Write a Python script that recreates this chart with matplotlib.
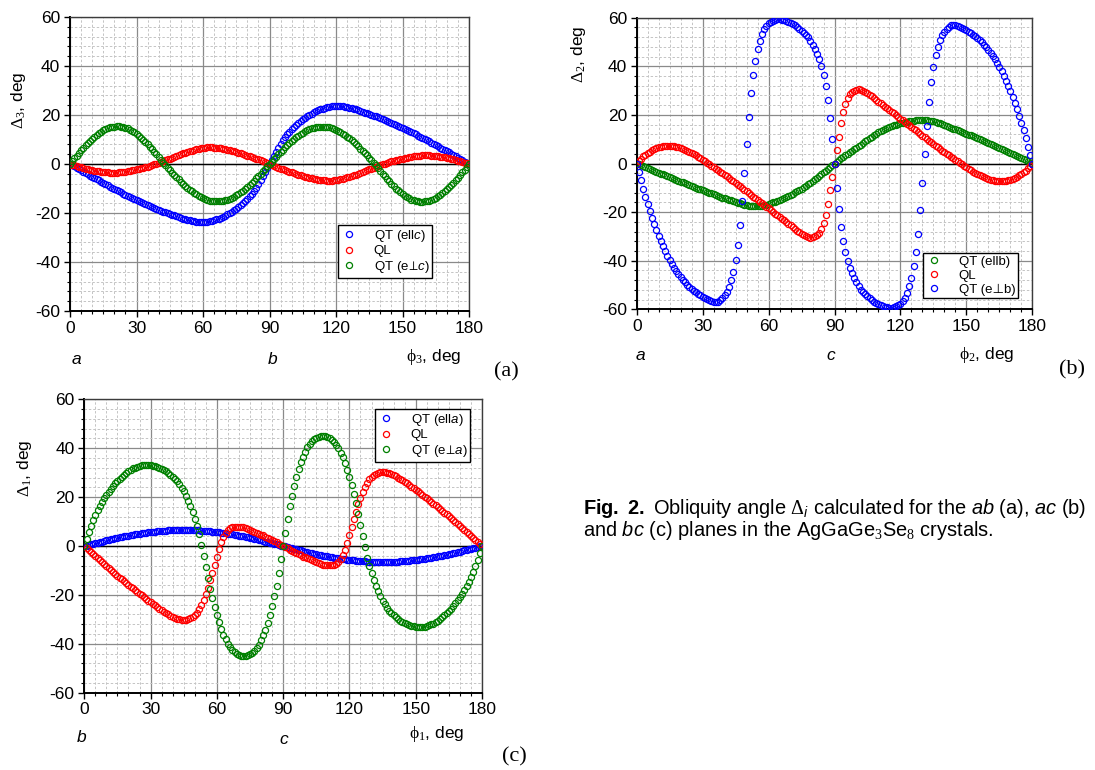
import matplotlib
matplotlib.use('Agg')
import matplotlib.pyplot as plt
from matplotlib.ticker import MultipleLocator

plt.rcParams['font.family'] = ['Liberation Sans', 'DejaVu Sans']
plt.rcParams['mathtext.fontset'] = 'custom'
plt.rcParams['mathtext.rm'] = 'Liberation Serif'
plt.rcParams['mathtext.it'] = 'Liberation Sans:italic'
plt.rcParams['mathtext.bf'] = 'Liberation Sans:bold'
plt.rcParams['mathtext.sf'] = 'DejaVu Sans'
plt.rcParams['axes.unicode_minus'] = False

# angle, deg (one point per degree)
phi = list(range(181))

# ---- panel (a): ab plane, Delta_3 vs phi_3
a_qt_par = [0.0,
    -0.5, -1.0, -1.6, -2.1, -2.6, -3.1, -3.6, -4.2, -4.7, -5.2,
    -5.7, -6.2, -6.7, -7.2, -7.7, -8.2, -8.7, -9.2, -9.7, -10.2,
    -10.7, -11.2, -11.6, -12.1, -12.6, -13.0, -13.5, -13.9, -14.4, -14.8,
    -15.2, -15.6, -16.0, -16.4, -16.8, -17.2, -17.6, -17.9, -18.3, -18.7,
    -19.0, -19.4, -19.7, -20.1, -20.4, -20.7, -21.0, -21.4, -21.7, -22.0,
    -22.3, -22.5, -22.8, -23.0, -23.2, -23.4, -23.5, -23.6, -23.7, -23.7,
    -23.6, -23.5, -23.4, -23.2, -22.9, -22.6, -22.3, -21.9, -21.5, -21.1,
    -20.6, -20.1, -19.5, -18.9, -18.2, -17.5, -16.8, -16.0, -15.1, -14.2,
    -13.2, -12.1, -10.9, -9.6, -8.2, -6.7, -5.1, -3.4, -1.7, 0.0,
    1.7, 3.4, 5.1, 6.7, 8.2, 9.6, 10.9, 12.1, 13.2, 14.2,
    15.1, 16.0, 16.8, 17.5, 18.2, 18.9, 19.5, 20.1, 20.6, 21.1,
    21.5, 21.9, 22.3, 22.6, 22.9, 23.2, 23.4, 23.5, 23.6, 23.7,
    23.7, 23.6, 23.5, 23.4, 23.2, 23.0, 22.8, 22.5, 22.3, 22.0,
    21.7, 21.4, 21.0, 20.7, 20.4, 20.1, 19.7, 19.4, 19.0, 18.7,
    18.3, 17.9, 17.6, 17.2, 16.8, 16.4, 16.0, 15.6, 15.2, 14.8,
    14.4, 13.9, 13.5, 13.0, 12.6, 12.1, 11.6, 11.2, 10.7, 10.2,
    9.7, 9.2, 8.7, 8.2, 7.7, 7.2, 6.7, 6.2, 5.7, 5.2,
    4.7, 4.2, 3.6, 3.1, 2.6, 2.1, 1.6, 1.0, 0.5, 0.0]
a_ql = [0.0,
    -0.3, -0.6, -0.8, -1.1, -1.4, -1.6, -1.9, -2.1, -2.3, -2.5,
    -2.7, -2.9, -3.0, -3.2, -3.3, -3.4, -3.4, -3.5, -3.5, -3.5,
    -3.5, -3.4, -3.3, -3.2, -3.1, -3.0, -2.8, -2.6, -2.4, -2.2,
    -2.0, -1.8, -1.6, -1.3, -1.1, -0.8, -0.5, -0.2, 0.1, 0.5,
    0.8, 1.2, 1.5, 1.9, 2.2, 2.6, 2.9, 3.3, 3.6, 4.0,
    4.3, 4.6, 4.9, 5.2, 5.5, 5.8, 6.0, 6.2, 6.4, 6.6,
    6.7, 6.8, 6.8, 6.8, 6.7, 6.6, 6.5, 6.4, 6.2, 6.0,
    5.8, 5.6, 5.4, 5.2, 4.9, 4.6, 4.3, 4.0, 3.7, 3.4,
    3.1, 2.8, 2.5, 2.2, 1.9, 1.5, 1.2, 0.8, 0.4, 0.0,
    -0.4, -0.8, -1.2, -1.5, -1.9, -2.2, -2.5, -2.8, -3.1, -3.4,
    -3.7, -4.0, -4.3, -4.6, -4.9, -5.2, -5.4, -5.6, -5.8, -6.0,
    -6.2, -6.4, -6.5, -6.6, -6.7, -6.8, -6.8, -6.8, -6.7, -6.6,
    -6.4, -6.2, -6.0, -5.8, -5.5, -5.2, -4.9, -4.6, -4.3, -4.0,
    -3.6, -3.3, -2.9, -2.6, -2.2, -1.9, -1.5, -1.2, -0.8, -0.5,
    -0.1, 0.2, 0.5, 0.8, 1.1, 1.3, 1.6, 1.8, 2.0, 2.2,
    2.4, 2.6, 2.8, 3.0, 3.1, 3.2, 3.3, 3.4, 3.5, 3.5,
    3.5, 3.5, 3.4, 3.4, 3.3, 3.2, 3.0, 2.9, 2.7, 2.5,
    2.3, 2.1, 1.9, 1.6, 1.4, 1.1, 0.8, 0.6, 0.3, 0.0]
a_qt_perp = [0.0,
    1.1, 2.3, 3.4, 4.5, 5.6, 6.6, 7.6, 8.6, 9.5, 10.4,
    11.2, 11.9, 12.6, 13.2, 13.8, 14.3, 14.6, 15.0, 15.2, 15.3,
    15.4, 15.4, 15.3, 15.1, 14.8, 14.5, 14.0, 13.5, 12.9, 12.3,
    11.6, 10.8, 10.0, 9.1, 8.1, 7.1, 6.1, 5.1, 4.0, 2.8,
    1.7, 0.6, -0.5, -1.5, -2.5, -3.5, -4.5, -5.4, -6.3, -7.2,
    -8.1, -8.9, -9.7, -10.5, -11.2, -11.8, -12.4, -13.0, -13.5, -13.9,
    -14.3, -14.6, -14.9, -15.0, -15.1, -15.2, -15.2, -15.1, -14.9, -14.8,
    -14.5, -14.1, -13.7, -13.3, -12.7, -12.1, -11.5, -10.9, -10.1, -9.3,
    -8.5, -7.7, -6.8, -5.9, -5.0, -4.0, -3.0, -2.0, -1.0, 0.0,
    1.0, 2.0, 3.0, 4.0, 5.0, 5.9, 6.8, 7.7, 8.5, 9.3,
    10.1, 10.9, 11.5, 12.1, 12.7, 13.3, 13.7, 14.1, 14.5, 14.8,
    14.9, 15.1, 15.2, 15.2, 15.1, 15.0, 14.9, 14.6, 14.3, 13.9,
    13.5, 13.0, 12.4, 11.8, 11.2, 10.5, 9.7, 8.9, 8.1, 7.2,
    6.3, 5.4, 4.5, 3.5, 2.5, 1.5, 0.5, -0.6, -1.7, -2.8,
    -4.0, -5.1, -6.1, -7.1, -8.1, -9.1, -10.0, -10.8, -11.6, -12.3,
    -12.9, -13.5, -14.0, -14.5, -14.8, -15.1, -15.3, -15.4, -15.4, -15.3,
    -15.2, -15.0, -14.6, -14.3, -13.8, -13.2, -12.6, -11.9, -11.2, -10.4,
    -9.5, -8.6, -7.6, -6.6, -5.6, -4.5, -3.4, -2.3, -1.1, 0.0]

# ---- panel (b): ac plane, Delta_2 vs phi_2
b_qt_par = [0.0,
    -0.4, -0.8, -1.1, -1.5, -1.9, -2.3, -2.7, -3.0, -3.4, -3.8,
    -4.2, -4.5, -4.9, -5.3, -5.7, -6.0, -6.4, -6.8, -7.1, -7.5,
    -7.8, -8.2, -8.5, -8.9, -9.2, -9.6, -9.9, -10.3, -10.6, -11.0,
    -11.3, -11.6, -12.0, -12.3, -12.7, -13.0, -13.3, -13.7, -14.0, -14.3,
    -14.6, -14.9, -15.2, -15.5, -15.8, -16.1, -16.4, -16.6, -16.9, -17.1,
    -17.3, -17.4, -17.5, -17.5, -17.5, -17.4, -17.3, -17.1, -16.9, -16.6,
    -16.3, -16.0, -15.7, -15.4, -15.0, -14.6, -14.2, -13.8, -13.4, -12.9,
    -12.4, -11.9, -11.4, -10.9, -10.3, -9.7, -9.1, -8.5, -7.9, -7.2,
    -6.5, -5.8, -5.1, -4.4, -3.7, -3.0, -2.3, -1.5, -0.8, 0.0,
    0.7, 1.4, 2.1, 2.8, 3.5, 4.1, 4.7, 5.3, 5.9, 6.5,
    7.2, 7.8, 8.5, 9.1, 9.8, 10.4, 11.0, 11.6, 12.2, 12.8,
    13.3, 13.8, 14.2, 14.6, 15.0, 15.4, 15.7, 16.0, 16.3, 16.6,
    16.8, 17.0, 17.2, 17.4, 17.5, 17.6, 17.7, 17.8, 17.9, 17.9,
    17.8, 17.7, 17.6, 17.5, 17.3, 17.1, 16.8, 16.5, 16.2, 15.8,
    15.5, 15.1, 14.8, 14.4, 14.0, 13.7, 13.3, 13.0, 12.6, 12.3,
    11.9, 11.6, 11.2, 10.9, 10.5, 10.1, 9.8, 9.4, 9.0, 8.6,
    8.2, 7.8, 7.3, 6.9, 6.5, 6.1, 5.7, 5.3, 4.8, 4.4,
    4.0, 3.5, 3.1, 2.6, 2.2, 1.8, 1.3, 0.9, 0.4, 0.0]
b_ql = [0.0,
    1.0, 2.0, 2.9, 3.6, 4.3, 4.9, 5.5, 5.9, 6.3, 6.6,
    6.9, 7.0, 7.1, 7.2, 7.2, 7.1, 7.0, 6.8, 6.6, 6.3,
    6.0, 5.6, 5.2, 4.8, 4.3, 3.8, 3.3, 2.7, 2.1, 1.5,
    0.9, 0.3, -0.3, -0.9, -1.5, -2.1, -2.7, -3.3, -4.0, -4.6,
    -5.3, -5.9, -6.6, -7.3, -8.0, -8.7, -9.4, -10.1, -10.8, -11.5,
    -12.2, -12.9, -13.6, -14.3, -15.0, -15.7, -16.4, -17.1, -17.8, -18.5,
    -19.2, -19.9, -20.6, -21.3, -22.0, -22.7, -23.4, -24.1, -24.8, -25.5,
    -26.2, -26.9, -27.6, -28.3, -28.9, -29.5, -30.0, -30.3, -30.5, -30.4,
    -30.0, -29.4, -28.4, -26.8, -24.3, -21.0, -16.5, -11.0, -5.5, 0.0,
    5.5, 11.0, 16.5, 21.0, 24.3, 26.8, 28.4, 29.4, 30.0, 30.4,
    30.5, 30.3, 30.0, 29.5, 28.9, 28.3, 27.6, 26.9, 26.2, 25.5,
    24.8, 24.1, 23.4, 22.7, 22.0, 21.3, 20.6, 19.9, 19.2, 18.5,
    17.8, 17.1, 16.4, 15.7, 15.0, 14.3, 13.6, 12.9, 12.2, 11.5,
    10.8, 10.1, 9.4, 8.7, 8.0, 7.3, 6.6, 5.9, 5.3, 4.6,
    4.0, 3.3, 2.7, 2.1, 1.5, 0.9, 0.3, -0.3, -0.9, -1.5,
    -2.1, -2.7, -3.3, -3.8, -4.3, -4.8, -5.2, -5.6, -6.0, -6.3,
    -6.6, -6.8, -7.0, -7.1, -7.2, -7.2, -7.1, -7.0, -6.9, -6.6,
    -6.3, -5.9, -5.5, -4.9, -4.3, -3.6, -2.9, -2.0, -1.0, 0.0]
b_qt_perp = [0.0,
    -3.4, -6.9, -10.3, -13.6, -16.8, -19.6, -22.4, -25.0, -27.4, -29.8,
    -32.0, -34.1, -36.1, -38.0, -39.8, -41.4, -42.9, -44.3, -45.6, -46.8,
    -47.9, -48.9, -49.8, -50.7, -51.5, -52.3, -53.0, -53.7, -54.3, -54.9,
    -55.4, -55.9, -56.3, -56.7, -57.0, -57.1, -56.8, -56.2, -55.4, -54.3,
    -53.0, -50.8, -48.0, -44.5, -39.7, -33.5, -25.3, -15.3, -4.0, 8.0,
    19.3, 28.9, 36.4, 42.3, 47.0, 50.5, 53.3, 55.2, 56.7, 57.7,
    58.4, 58.8, 59.1, 59.3, 59.3, 59.2, 59.0, 58.7, 58.3, 57.9,
    57.4, 56.8, 56.2, 55.5, 54.7, 53.9, 52.9, 51.9, 50.6, 48.9,
    47.2, 45.2, 42.8, 40.1, 36.4, 31.9, 26.1, 18.6, 10.0, 0.0,
    -10.0, -18.6, -26.1, -31.9, -36.4, -40.1, -42.8, -45.2, -47.2, -48.9,
    -50.6, -51.9, -52.9, -53.9, -54.7, -55.5, -56.2, -56.8, -57.4, -57.9,
    -58.3, -58.7, -59.0, -59.2, -59.3, -59.3, -59.1, -58.8, -58.4, -57.7,
    -56.7, -55.2, -53.3, -50.5, -47.0, -42.3, -36.4, -28.9, -19.3, -8.0,
    4.0, 15.3, 25.3, 33.5, 39.7, 44.5, 48.0, 50.8, 53.0, 54.3,
    55.4, 56.2, 56.8, 57.1, 57.0, 56.7, 56.3, 55.9, 55.4, 54.9,
    54.3, 53.7, 53.0, 52.3, 51.5, 50.7, 49.8, 48.9, 47.9, 46.8,
    45.6, 44.3, 42.9, 41.4, 39.8, 38.0, 36.1, 34.1, 32.0, 29.8,
    27.4, 25.0, 22.4, 19.6, 16.8, 13.6, 10.3, 6.9, 3.4, 0.0]

# ---- panel (c): bc plane, Delta_1 vs phi_1
c_qt_par = [0.0,
    0.2, 0.5, 0.7, 0.9, 1.1, 1.4, 1.6, 1.8, 2.0, 2.3,
    2.5, 2.7, 2.9, 3.1, 3.3, 3.5, 3.7, 3.9, 4.1, 4.2,
    4.4, 4.6, 4.8, 4.9, 5.1, 5.2, 5.3, 5.5, 5.6, 5.7,
    5.8, 5.9, 6.0, 6.1, 6.2, 6.3, 6.3, 6.4, 6.5, 6.5,
    6.5, 6.6, 6.6, 6.6, 6.6, 6.6, 6.6, 6.6, 6.5, 6.5,
    6.5, 6.4, 6.3, 6.3, 6.2, 6.1, 6.0, 5.9, 5.8, 5.7,
    5.6, 5.5, 5.3, 5.2, 5.1, 4.9, 4.8, 4.6, 4.4, 4.2,
    4.1, 3.9, 3.7, 3.5, 3.3, 3.1, 2.9, 2.7, 2.5, 2.3,
    2.0, 1.8, 1.6, 1.4, 1.1, 0.9, 0.7, 0.5, 0.2, 0.0,
    -0.2, -0.5, -0.7, -0.9, -1.1, -1.4, -1.6, -1.8, -2.0, -2.3,
    -2.5, -2.7, -2.9, -3.1, -3.3, -3.5, -3.7, -3.9, -4.1, -4.2,
    -4.4, -4.6, -4.8, -4.9, -5.1, -5.2, -5.3, -5.5, -5.6, -5.7,
    -5.8, -5.9, -6.0, -6.1, -6.2, -6.3, -6.3, -6.4, -6.5, -6.5,
    -6.5, -6.6, -6.6, -6.6, -6.6, -6.6, -6.6, -6.6, -6.5, -6.5,
    -6.5, -6.4, -6.3, -6.3, -6.2, -6.1, -6.0, -5.9, -5.8, -5.7,
    -5.6, -5.5, -5.3, -5.2, -5.1, -4.9, -4.8, -4.6, -4.4, -4.2,
    -4.1, -3.9, -3.7, -3.5, -3.3, -3.1, -2.9, -2.7, -2.5, -2.3,
    -2.0, -1.8, -1.6, -1.4, -1.1, -0.9, -0.7, -0.5, -0.2, 0.0]
c_ql = [0.0,
    -0.9, -1.7, -2.6, -3.4, -4.2, -5.0, -5.8, -6.6, -7.4, -8.2,
    -9.0, -9.8, -10.6, -11.3, -12.1, -12.9, -13.6, -14.4, -15.1, -15.9,
    -16.6, -17.3, -18.1, -18.8, -19.5, -20.2, -20.9, -21.6, -22.3, -23.0,
    -23.6, -24.3, -24.9, -25.6, -26.2, -26.8, -27.4, -28.0, -28.5, -29.0,
    -29.4, -29.8, -30.0, -30.2, -30.2, -30.1, -29.9, -29.6, -29.1, -28.4,
    -27.3, -25.9, -24.2, -22.2, -19.8, -17.1, -14.1, -10.9, -7.6, -4.3,
    -1.2, 1.6, 3.8, 5.4, 6.5, 7.2, 7.6, 7.8, 7.9, 7.9,
    7.8, 7.6, 7.3, 7.0, 6.7, 6.3, 5.9, 5.5, 5.1, 4.7,
    4.3, 3.8, 3.4, 2.9, 2.5, 2.0, 1.5, 1.0, 0.5, 0.0,
    -0.5, -1.0, -1.5, -2.0, -2.5, -2.9, -3.4, -3.8, -4.3, -4.7,
    -5.1, -5.5, -5.9, -6.3, -6.7, -7.0, -7.3, -7.6, -7.8, -7.9,
    -7.9, -7.8, -7.6, -7.2, -6.5, -5.4, -3.8, -1.6, 1.2, 4.3,
    7.6, 10.9, 14.1, 17.1, 19.8, 22.2, 24.2, 25.9, 27.3, 28.4,
    29.1, 29.6, 29.9, 30.1, 30.2, 30.2, 30.0, 29.8, 29.4, 29.0,
    28.5, 28.0, 27.4, 26.8, 26.2, 25.6, 24.9, 24.3, 23.6, 23.0,
    22.3, 21.6, 20.9, 20.2, 19.5, 18.8, 18.1, 17.3, 16.6, 15.9,
    15.1, 14.4, 13.6, 12.9, 12.1, 11.3, 10.6, 9.8, 9.0, 8.2,
    7.4, 6.6, 5.8, 5.0, 4.2, 3.4, 2.6, 1.7, 0.9, 0.0]
c_qt_perp = [0.0,
    3.0, 5.8, 8.3, 10.6, 12.7, 14.6, 16.4, 18.0, 19.5, 20.9,
    22.2, 23.4, 24.5, 25.6, 26.6, 27.5, 28.4, 29.2, 29.9, 30.6,
    31.2, 31.7, 32.1, 32.5, 32.8, 33.0, 33.1, 33.1, 33.1, 33.0,
    32.8, 32.6, 32.3, 31.9, 31.5, 31.0, 30.5, 29.9, 29.2, 28.4,
    27.5, 26.5, 25.3, 23.9, 22.3, 20.5, 18.5, 16.3, 13.9, 11.2,
    8.2, 4.8, 0.5, -4.0, -8.6, -13.1, -17.4, -21.3, -24.9, -28.2,
    -31.2, -33.9, -36.2, -38.2, -39.9, -41.3, -42.5, -43.4, -44.1, -44.6,
    -44.9, -45.0, -45.0, -44.7, -44.3, -43.7, -42.8, -41.7, -40.3, -38.6,
    -36.6, -34.2, -31.4, -28.2, -24.6, -20.6, -16.2, -11.0, -5.5, 0.0,
    5.5, 11.0, 16.2, 20.6, 24.6, 28.2, 31.4, 34.2, 36.6, 38.6,
    40.3, 41.7, 42.8, 43.7, 44.3, 44.7, 45.0, 45.0, 44.9, 44.6,
    44.1, 43.4, 42.5, 41.3, 39.9, 38.2, 36.2, 33.9, 31.2, 28.2,
    24.9, 21.3, 17.4, 13.1, 8.6, 4.0, -0.5, -4.8, -8.2, -11.2,
    -13.9, -16.3, -18.5, -20.5, -22.3, -23.9, -25.3, -26.5, -27.5, -28.4,
    -29.2, -29.9, -30.5, -31.0, -31.5, -31.9, -32.3, -32.6, -32.8, -33.0,
    -33.1, -33.1, -33.1, -33.0, -32.8, -32.5, -32.1, -31.7, -31.2, -30.6,
    -29.9, -29.2, -28.4, -27.5, -26.6, -25.6, -24.5, -23.4, -22.2, -20.9,
    -19.5, -18.0, -16.4, -14.6, -12.7, -10.6, -8.3, -5.8, -3.0, 0.0]

BLUE = '#0000ff'
RED = '#ff0000'
GREEN = '#008000'

W, H = 1095, 770


def fx(px):
    return px / W


def fy(py):
    return 1 - py / H


def estilo(ax):
    ax.set_xlim(0, 180)
    ax.set_ylim(-60, 60)
    ax.xaxis.set_major_locator(MultipleLocator(30))
    ax.xaxis.set_minor_locator(MultipleLocator(5))
    ax.yaxis.set_major_locator(MultipleLocator(20))
    ax.yaxis.set_minor_locator(MultipleLocator(4))
    ax.set_axisbelow(True)
    ax.grid(which='major', color='#8a8a8a', lw=0.9)
    ax.grid(which='minor', color='#c4c4c4', lw=0.7, ls=(0, (2.5, 2)))
    ax.axhline(0, color='black', lw=1.0, zorder=1.5)
    ax.tick_params(which='major', direction='out', length=4, width=1.0,
                   labelsize=12.5, pad=3, top=False, right=False)
    ax.tick_params(which='minor', direction='out', length=2.3, width=0.8,
                   top=False, right=False)
    for s in ['left', 'bottom']:
        ax.spines[s].set_color('black')
        ax.spines[s].set_linewidth(1.4)
    for s in ['top', 'right']:
        ax.spines[s].set_color('#3c3c3c')
        ax.spines[s].set_linewidth(1.0)


def puntos(ax, y, color, label):
    ax.plot(phi, y, ls='none', marker='o', ms=4.4, mfc='none', mec=color,
            mew=0.9, label=label, zorder=3)


def leyenda(ax, px, py):
    ax.legend(loc='upper left', bbox_to_anchor=(fx(px), fy(py)),
              bbox_transform=fig.transFigure, fontsize=9.5, frameon=True,
              fancybox=False, edgecolor='black', framealpha=1,
              borderpad=0.2, labelspacing=0.12, handlelength=1.2,
              handletextpad=1.3, borderaxespad=0, markerscale=1.0)


fig = plt.figure(figsize=(W / 100, H / 100), dpi=100)

# (a)
ax_a = fig.add_axes([fx(70), fy(311), fx(399), 294 / H])
estilo(ax_a)
puntos(ax_a, a_qt_par, BLUE, 'QT (ell$\\mathit{c}$)')
puntos(ax_a, a_ql, RED, 'QL')
puntos(ax_a, a_qt_perp, GREEN, 'QT (e$\\!\\mathsf{\\perp}\\!\\mathit{c}$)')
leyenda(ax_a, 338, 225)

# (b)
ax_b = fig.add_axes([fx(636.7), fy(309.3), fx(395.6), 291.6 / H])
estilo(ax_b)
puntos(ax_b, b_qt_par, GREEN, 'QT (ellb)')
puntos(ax_b, b_ql, RED, 'QL')
puntos(ax_b, b_qt_perp, BLUE, 'QT (e\u22a5b)')
leyenda(ax_b, 923, 253)

# (c)
ax_c = fig.add_axes([fx(84.3), fy(692.7), fx(397.7), 293.4 / H])
estilo(ax_c)
puntos(ax_c, c_qt_par, BLUE, 'QT (ell$\\mathit{a}$)')
puntos(ax_c, c_ql, RED, 'QL')
puntos(ax_c, c_qt_perp, GREEN, 'QT (e$\\!\\mathsf{\\perp}\\!\\mathit{a}$)')
leyenda(ax_c, 375, 409)

# etiquetas de ejes
fs = 12.5
fig.text(fx(18), fy(100), '$\\mathrm{\\Delta}_{3}$, deg', rotation=90,
         ha='center', va='center', fontsize=fs)
fig.text(fx(579), fy(54), '$\\mathrm{\\Delta}_{2}$, deg', rotation=90,
         ha='center', va='center', fontsize=fs)
fig.text(fx(25), fy(468), '$\\mathrm{\\Delta}_{1}$, deg', rotation=90,
         ha='center', va='center', fontsize=fs)
fig.text(fx(434), fy(357), '$\\mathrm{\\phi}_{3}$, deg', ha='center',
         va='center', fontsize=fs)
fig.text(fx(987), fy(355), '$\\mathrm{\\phi}_{2}$, deg', ha='center',
         va='center', fontsize=fs)
fig.text(fx(437), fy(734), '$\\mathrm{\\phi}_{1}$, deg', ha='center',
         va='center', fontsize=fs)

# ejes cristalinos
for px, py, t in [(76, 359, 'a'), (273, 360, 'b'), (640, 355, 'a'),
                  (831, 356, 'c'), (82, 738, 'b'), (284, 739, 'c')]:
    fig.text(fx(px), fy(py), t, style='italic', ha='center', va='center',
             fontsize=12.5)

# letras de panel
for px, py, t in [(506, 372, '(a)'), (1072, 370, '(b)'), (514, 757, '(c)')]:
    fig.text(fx(px), fy(py), t, family='Liberation Serif', ha='center',
             va='center', fontsize=16)

# pie de figura
fig.text(fx(583), fy(509),
         '$\\mathbf{Fig.\\ 2.}$ Obliquity angle $\\mathrm{\\Delta}_{\\mathit{i}}$'
         ' calculated for the $\\mathit{ab}$ (a), $\\mathit{ac}$ (b)',
         ha='left', va='center', fontsize=14.4)
fig.text(fx(583), fy(531),
         'and $\\mathit{bc}$ (c) planes in the AgGaGe$_{3}$Se$_{8}$ crystals.',
         ha='left', va='center', fontsize=14.4)

fig.savefig('out.png', dpi=100)
